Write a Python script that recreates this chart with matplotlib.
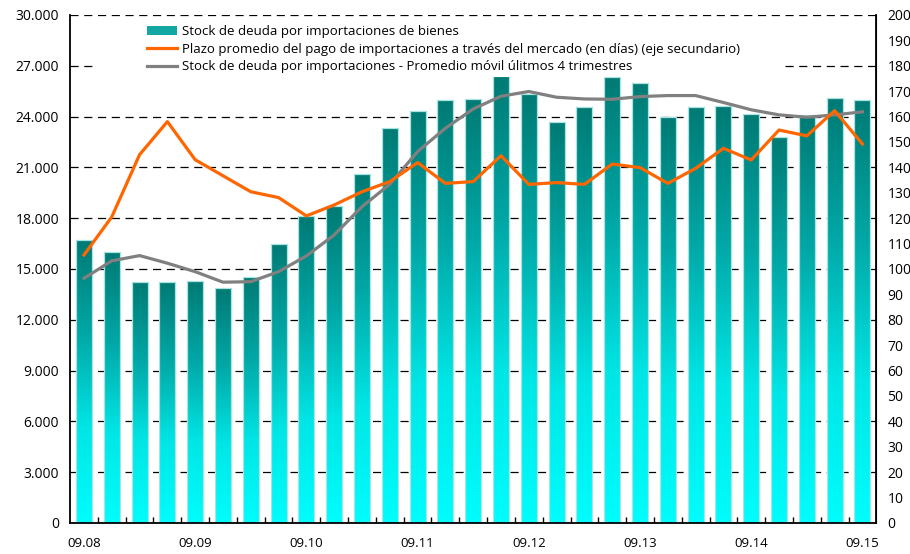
import matplotlib
matplotlib.use('Agg')
import matplotlib.pyplot as plt
from matplotlib.colors import LinearSegmentedColormap
from matplotlib.patches import Patch, Rectangle
from matplotlib.lines import Line2D
from matplotlib.ticker import FuncFormatter, FixedLocator
import numpy as np

plt.rcParams['font.family'] = ['Open Sans', 'DejaVu Sans']

# trimestres 09.08 .. 09.15
periodos = ['09.08', '12.08', '03.09', '06.09', '09.09', '12.09', '03.10', '06.10',
            '09.10', '12.10', '03.11', '06.11', '09.11', '12.11', '03.12', '06.12',
            '09.12', '12.12', '03.13', '06.13', '09.13', '12.13', '03.14', '06.14',
            '09.14', '12.14', '03.15', '06.15', '09.15']

stock = [16700, 16000, 14250, 14250, 14300, 13900, 14500, 16500,
         18100, 18700, 20600, 23300, 24300, 24950, 25050, 26400,
         25350, 23700, 24550, 26350, 26000, 24000, 24580, 24620,
         24150, 22800, 24100, 25100, 24950]

plazo = [105.5, 120.5, 145.0, 158.0, 143.0, 136.7, 130.4, 128.1,
         120.9, 125.2, 130.4, 134.4, 141.9, 133.7, 134.4, 144.6,
         133.3, 134.0, 133.3, 141.3, 139.9, 133.7, 139.6, 147.5,
         142.9, 154.7, 152.4, 162.3, 149.2]

promedio = [14450, 15480, 15790, 15340, 14840, 14220, 14250, 14840,
            15770, 17010, 18680, 20000, 21930, 23310, 24450, 25200,
            25480, 25140, 25040, 25020, 25180, 25240, 25240, 24830,
            24400, 24100, 23960, 24100, 24280]

etiquetas_x = ['09.08', '09.09', '09.10', '09.11', '09.12', '09.13', '09.14', '09.15']

x = np.arange(len(periodos))

fig = plt.figure(figsize=(9.10, 5.54), dpi=100)
ax = fig.add_axes([0.077, 0.056, 0.886, 0.917])
ax2 = ax.twinx()

# barras con degradado (oscuro arriba, cian abajo)
cmap = LinearSegmentedColormap.from_list('teal', ['#00fdfd', '#00e6e6', '#00a8a6', '#007a74'])
bars = ax.bar(x, stock, width=0.58, color='none', edgecolor='#a8e4e2', linewidth=0.9, zorder=2)
grad = np.linspace(0, 1, 256).reshape(-1, 1)
for b in bars:
    bx, by = b.get_x(), b.get_y()
    bw, bh = b.get_width(), b.get_height()
    im = ax.imshow(grad, cmap=cmap, aspect='auto', origin='lower',
                   extent=[bx, bx + bw, by, by + bh], zorder=1.5)
    im.set_clip_path(b)

ax.set_xlim(-0.5, len(periodos) - 0.5)
ax.set_ylim(0, 30000)
ax.set_yticks(np.arange(0, 30001, 3000))
ax.yaxis.set_major_formatter(FuncFormatter(lambda v, p: f"{int(v):,}".replace(',', '.')))
ax.grid(axis='y', color='black', linestyle=(0, (6.5, 4.5)), linewidth=0.9, zorder=0)
ax.set_axisbelow(True)

# ticks x: etiquetas cada 4 trimestres, marcas entre categorias
ax.set_xticks(x[::4])
ax.set_xticklabels(etiquetas_x)
ax.xaxis.set_minor_locator(FixedLocator(np.arange(0.5, len(periodos) - 0.5, 1)))
ax.tick_params(axis='x', which='major', length=0, pad=10, labelsize=9.5)
ax.tick_params(axis='x', which='minor', length=4, direction='in', width=1)
ax.tick_params(axis='y', length=0, pad=8, labelsize=10)

ax.spines['top'].set_visible(False)
for s in ['left', 'bottom']:
    ax.spines[s].set_linewidth(1.3)

# lineas
ax.plot(x, promedio, color='#808080', linewidth=2.3, zorder=3)
ax2.plot(x, plazo, color='#ff6600', linewidth=2.3, zorder=3)
ax2.set_ylim(0, 200)
ax2.set_yticks(np.arange(0, 201, 10))
ax2.tick_params(axis='y', length=0, pad=8, labelsize=10)
ax2.spines['top'].set_visible(False)
ax2.spines['left'].set_visible(False)
ax2.spines['bottom'].set_visible(False)
ax2.spines['right'].set_linewidth(1.3)

# fondo blanco del cuadro de leyenda (mas ancho que el texto)
ax2.add_patch(Rectangle((0.031, 0.887), 0.85, 0.106, transform=ax2.transAxes,
                        facecolor='white', edgecolor='none', zorder=0.5, clip_on=False))

# leyenda
handles = [Patch(facecolor='#12a7a3', edgecolor='none'),
           Line2D([], [], color='#ff6600', linewidth=2.3),
           Line2D([], [], color='#808080', linewidth=2.3)]
labels = ['Stock de deuda por importaciones de bienes',
          'Plazo promedio del pago de importaciones a través del mercado (en días) (eje secundario)',
          'Stock de deuda por importaciones - Promedio móvil úlitmos 4 trimestres']
leg = ax2.legend(handles, labels, loc='upper left', bbox_to_anchor=(0.09, 0.988),
                 frameon=True, fancybox=False, edgecolor='none', facecolor='white', framealpha=1,
                 fontsize=9.5, handlelength=2.3, handletextpad=0.4, labelspacing=0.35,
                 borderpad=0.3, borderaxespad=0.0)

fig.savefig('out.png', dpi=100)
